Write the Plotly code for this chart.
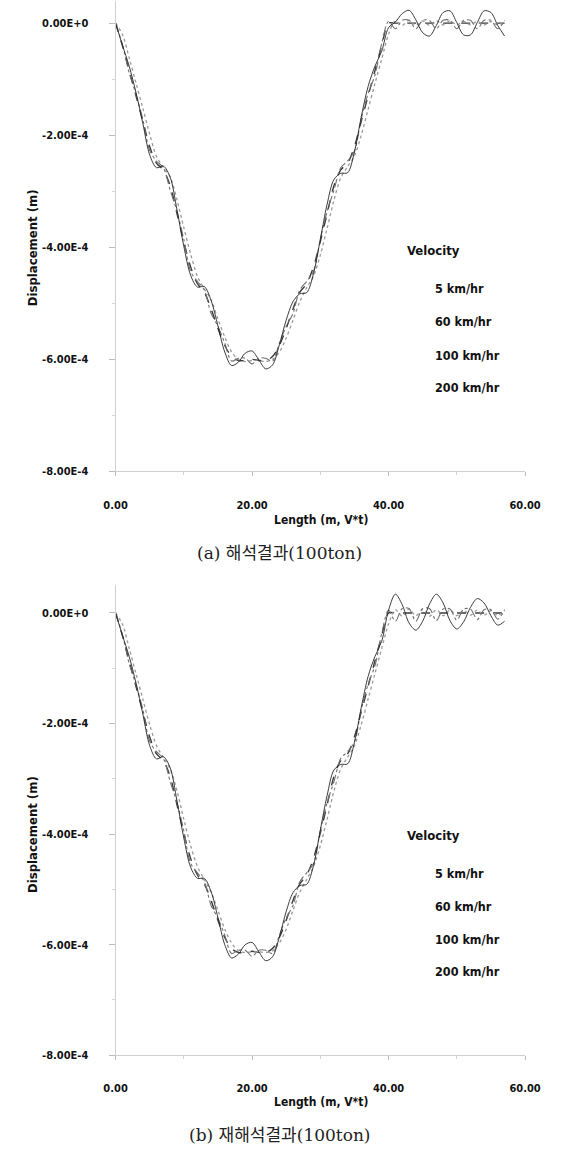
import plotly.graph_objects as go

# ---------------- data (displacement in units of 1e-4 m) ----------------
LENGTH = list(range(0, 58))          # Length (m, V*t)
SPEEDS = ["5 km/hr", "60 km/hr", "100 km/hr", "200 km/hr"]

# (a) 해석결과
A_5 = [0.00, -0.40, -0.85, -1.30, -1.75, -2.20, -2.50, -2.62, -2.90, -3.40,
       -3.90, -4.35, -4.65, -4.80, -5.10, -5.45, -5.75, -5.95, -6.02, -6.02,
       -6.00, -6.02, -6.02, -5.95, -5.75, -5.45, -5.10, -4.80, -4.65, -4.35,
       -3.90, -3.40, -2.90, -2.62, -2.50, -2.20, -1.75, -1.30, -0.85, -0.40,
       0.00, 0.00, 0.00, 0.00, 0.00, 0.00, 0.00, 0.00, 0.00, 0.00,
       0.00, 0.00, 0.00, 0.00, 0.00, 0.00, 0.00, 0.00]
A_60 = [0.00, -0.20, -0.62, -1.07, -1.52, -1.98, -2.38, -2.57, -2.74, -3.15,
        -3.65, -4.12, -4.52, -4.74, -4.94, -5.28, -5.60, -5.87, -6.00, -6.04,
        -6.02, -6.02, -6.04, -6.00, -5.87, -5.62, -5.30, -4.97, -4.72, -4.52,
        -4.14, -3.66, -3.16, -2.76, -2.56, -2.37, -2.00, -1.54, -1.08, -0.64,
        -0.20, 0.04, -0.04, 0.05, -0.04, 0.04, -0.04, 0.04, -0.03, 0.04,
        -0.03, 0.03, -0.03, 0.03, -0.03, 0.03, -0.03, 0.03]
A_100 = [0.00, -0.38, -0.89, -1.27, -1.72, -2.27, -2.46, -2.58, -2.98, -3.36,
         -3.86, -4.43, -4.61, -4.76, -5.18, -5.41, -5.71, -6.03, -5.98, -5.98,
         -6.08, -5.98, -5.98, -6.03, -5.71, -5.41, -5.18, -4.76, -4.61, -4.43,
         -3.86, -3.36, -2.98, -2.58, -2.46, -2.28, -1.71, -1.26, -0.93, -0.36,
         0.03, -0.10, 0.05, 0.05, -0.10, 0.05, 0.05, -0.10, 0.05, 0.05,
         -0.10, 0.05, 0.05, -0.10, 0.05, 0.05, -0.10, 0.05]
A_200 = [0.00, -0.39, -0.77, -1.24, -1.79, -2.35, -2.58, -2.55, -2.75, -3.33,
         -3.98, -4.50, -4.71, -4.70, -4.95, -5.40, -5.87, -6.11, -6.05, -5.89,
         -5.85, -6.01, -6.17, -6.10, -5.74, -5.30, -4.97, -4.83, -4.81, -4.47,
         -3.86, -3.23, -2.79, -2.68, -2.67, -2.30, -1.67, -1.13, -0.77, -0.50,
         -0.08, 0.02, 0.17, 0.23, 0.06, -0.17, -0.23, -0.04, 0.19, 0.22,
         0.01, -0.21, -0.21, 0.01, 0.22, 0.19, -0.04, -0.23]

# (b) 재해석결과
B_5 = [0.00, -0.41, -0.87, -1.33, -1.79, -2.24, -2.55, -2.67, -2.96, -3.47,
       -3.98, -4.44, -4.74, -4.90, -5.20, -5.56, -5.87, -6.07, -6.14, -6.14,
       -6.12, -6.14, -6.14, -6.07, -5.87, -5.56, -5.20, -4.90, -4.74, -4.44,
       -3.98, -3.47, -2.96, -2.67, -2.55, -2.24, -1.79, -1.33, -0.87, -0.41,
       0.00, 0.00, 0.00, 0.00, 0.00, 0.00, 0.00, 0.00, 0.00, 0.00,
       0.00, 0.00, 0.00, 0.00, 0.00, 0.00, 0.00, 0.00]
B_60 = [0.00, -0.20, -0.64, -1.10, -1.56, -2.02, -2.40, -2.61, -2.82, -3.22,
        -3.73, -4.21, -4.59, -4.82, -5.05, -5.38, -5.72, -5.97, -6.11, -6.14,
        -6.13, -6.13, -6.14, -6.11, -5.97, -5.72, -5.38, -5.05, -4.82, -4.59,
        -4.21, -3.73, -3.22, -2.82, -2.61, -2.40, -2.02, -1.56, -1.10, -0.64,
        -0.20, 0.06, -0.06, 0.07, -0.05, 0.06, -0.06, 0.06, -0.05, 0.05,
        -0.05, 0.05, -0.04, 0.05, -0.04, 0.04, -0.04, 0.04]
B_100 = [0.00, -0.39, -0.92, -1.30, -1.75, -2.32, -2.51, -2.63, -3.05, -3.43,
         -3.94, -4.53, -4.70, -4.86, -5.29, -5.52, -5.83, -6.16, -6.10, -6.10,
         -6.21, -6.10, -6.10, -6.16, -5.83, -5.52, -5.29, -4.86, -4.70, -4.53,
         -3.94, -3.43, -3.05, -2.63, -2.51, -2.33, -1.75, -1.29, -0.96, -0.37,
         0.05, -0.15, 0.08, 0.08, -0.15, 0.08, 0.08, -0.14, 0.07, 0.07,
         -0.13, 0.07, 0.07, -0.12, 0.06, 0.06, -0.11, 0.06]
B_200 = [0.00, -0.40, -0.79, -1.27, -1.83, -2.40, -2.64, -2.60, -2.80, -3.40,
         -4.07, -4.60, -4.80, -4.80, -5.04, -5.51, -6.00, -6.24, -6.17, -6.00,
         -5.96, -6.13, -6.29, -6.22, -5.86, -5.40, -5.06, -4.93, -4.91, -4.57,
         -3.93, -3.30, -2.84, -2.74, -2.73, -2.34, -1.71, -1.15, -0.79, -0.51,
         0.05, 0.34, 0.15, -0.18, -0.31, -0.15, 0.16, 0.34, 0.18, -0.14,
         -0.29, -0.16, 0.10, 0.26, 0.18, -0.05, -0.22, -0.15]

Y_TICKVALS = [0.0, -2e-4, -4e-4, -6e-4, -8e-4]
Y_TICKTEXT = ["0.00E+0", "-2.00E-4", "-4.00E-4", "-6.00E-4", "-8.00E-4"]
X_TICKVALS = [0, 20, 40, 60]
X_TICKTEXT = ["0.00", "20.00", "40.00", "60.00"]
X_TITLE = "Length (m, V*t)"
Y_TITLE = "Displacement (m)"
LEGEND_TITLE = "Velocity"
CAPTIONS = ["(a) 해석결과(100ton)", "(b) 재해석결과(100ton)"]

# ---------------- styling / layout ----------------
W, H = 561, 1152
BOLD = "DejaVu Sans Condensed, Liberation Sans Narrow, Arial Narrow, sans-serif"
SERIF = "DejaVu Serif, Liberation Serif, Noto Sans CJK KR, serif"
STYLES = {
    "5 km/hr": dict(color="#3a3a3a", width=1.4, dash="dash"),
    "60 km/hr": dict(color="#9a9a9a", width=1.3, dash="dot"),
    "100 km/hr": dict(color="#707070", width=1.1, dash="dashdot"),
    "200 km/hr": dict(color="#262626", width=0.9, dash="solid"),
}

def fx(px):
    return px / W

def fy(py):
    return 1 - py / H

X_DOM = [fx(109), fx(540)]
PANELS = [
    dict(series=[A_5, A_60, A_100, A_200], y0=23.3, y8=474.3, top=0.4,
         legend_y=[251.7, 290, 323.3, 357.3, 390], xtitle=523,
         caption=556, xs="x", ys="y"),
    dict(series=[B_5, B_60, B_100, B_200], y0=616.7, y8=1061.7, top=0.5,
         legend_y=[841, 879, 912.3, 945.7, 977.7], xtitle=1108.3,
         caption=1141.7, xs="x2", ys="y2"),
]

fig = go.Figure()
annotations = []
layout_axes = {}
TICKFONT = dict(family=BOLD, size=11, color="#111111", weight="bold")

for i, p in enumerate(PANELS):
    for name, vals in zip(SPEEDS, p["series"]):
        fig.add_trace(go.Scatter(
            x=LENGTH, y=[v * 1e-4 for v in vals], name=name, mode="lines",
            line=dict(shape="spline", smoothing=0.9, **STYLES[name]),
            xaxis=p["xs"], yaxis=p["ys"], showlegend=False))
    unit = (p["y8"] - p["y0"]) / 8.0
    top_px = p["y0"] - p["top"] * unit
    ydom = [fy(p["y8"]), fy(top_px)]
    xk = "xaxis" if i == 0 else "xaxis2"
    yk = "yaxis" if i == 0 else "yaxis2"
    layout_axes[xk] = dict(
        domain=X_DOM, range=[0, 60], anchor=p["ys"],
        tickvals=X_TICKVALS, ticktext=X_TICKTEXT, tickfont=TICKFONT,
        showgrid=False, zeroline=False, showline=True, linecolor="#cfcfcf", linewidth=1,
        ticks="outside", ticklen=4, tickcolor="#bdbdbd", ticklabelstandoff=19,
        minor=dict(dtick=10, ticks="outside", ticklen=3, tickcolor="#d5d5d5"))
    layout_axes[yk] = dict(
        domain=ydom, range=[-8e-4, p["top"] * 1e-4], anchor=p["xs"],
        tickvals=Y_TICKVALS, ticktext=Y_TICKTEXT, tickfont=TICKFONT,
        showgrid=False, zeroline=False, showline=True, linecolor="#cfcfcf", linewidth=1,
        ticks="outside", ticklen=6, tickcolor="#bdbdbd", ticklabelstandoff=18,
        minor=dict(dtick=1e-4, ticks="outside", ticklen=3, tickcolor="#d5d5d5"))

    annotations.append(dict(text=Y_TITLE, textangle=-90, x=fx(21), y=fy((p["y0"] + p["y8"]) / 2),
                            xref="paper", yref="paper", showarrow=False, xanchor="center", yanchor="middle",
                            font=dict(family=BOLD, size=13, color="#111111", weight="bold")))
    annotations.append(dict(text=X_TITLE, x=fx(325), y=fy(p["xtitle"]), xref="paper", yref="paper",
                            showarrow=False, xanchor="center", yanchor="middle",
                            font=dict(family=BOLD, size=12, color="#111111", weight="bold")))
    annotations.append(dict(text=LEGEND_TITLE, x=fx(414), y=fy(p["legend_y"][0]), xref="paper", yref="paper",
                            showarrow=False, xanchor="left", yanchor="middle",
                            font=dict(family=BOLD, size=13, color="#111111", weight="bold")))
    for name, ly in zip(SPEEDS, p["legend_y"][1:]):
        annotations.append(dict(text=name, x=fx(443), y=fy(ly), xref="paper", yref="paper",
                                showarrow=False, xanchor="left", yanchor="middle",
                                font=dict(family=BOLD, size=12.5, color="#111111", weight="bold")))
    annotations.append(dict(text=CAPTIONS[i], x=fx(282), y=fy(p["caption"]), xref="paper", yref="paper",
                            showarrow=False, xanchor="center", yanchor="middle",
                            font=dict(family=SERIF, size=17, color="#222222")))

fig.update_layout(
    width=W, height=H, autosize=False,
    margin=dict(l=0, r=0, t=0, b=0),
    paper_bgcolor="white", plot_bgcolor="white",
    annotations=annotations, showlegend=False,
    **layout_axes)

fig.write_html("out.html")
